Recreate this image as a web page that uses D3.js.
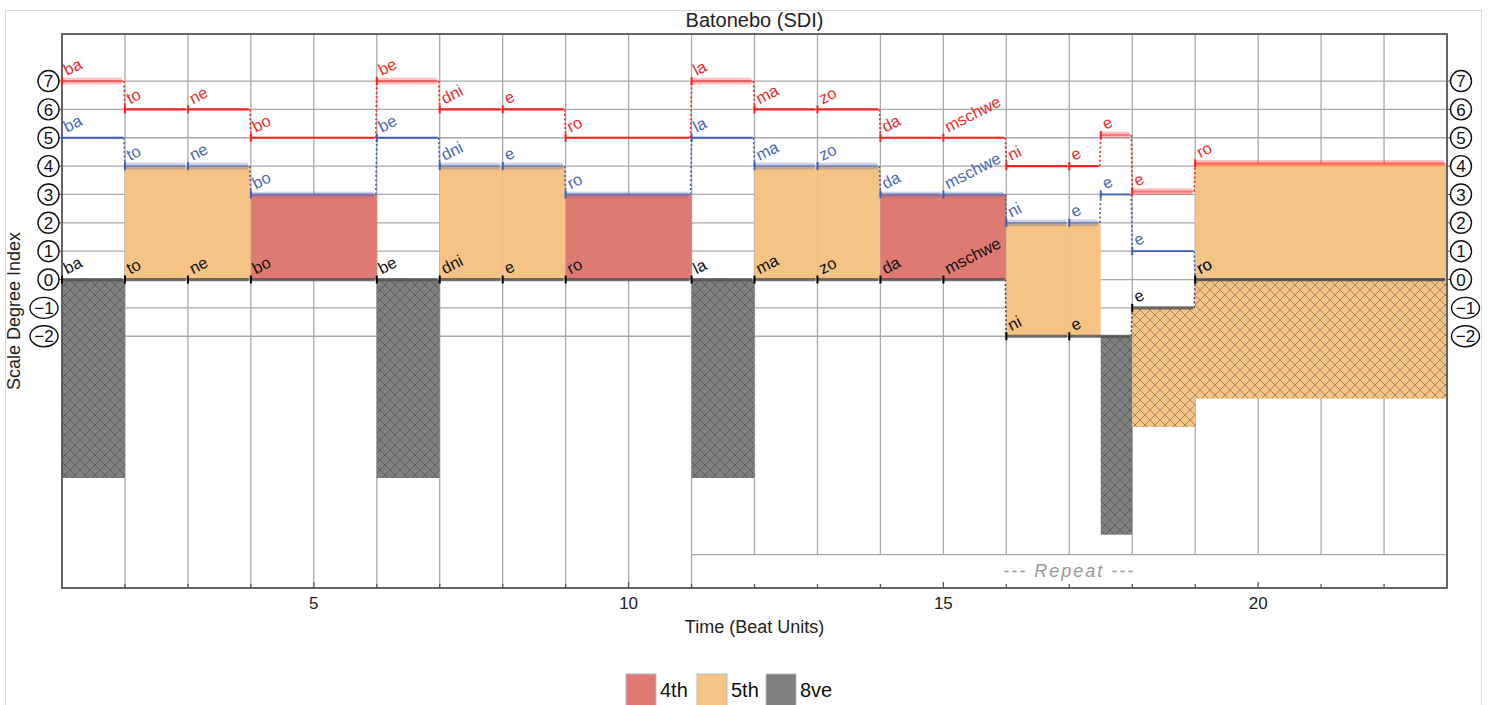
<!DOCTYPE html>
<html><head><meta charset="utf-8">
<script src="https://cdn.jsdelivr.net/npm/d3@7"></script>
<style>body{margin:0;background:#fff;font-family:"Liberation Sans",Arial,sans-serif}</style>
</head><body><svg id="c" width="1493" height="705"></svg>
<script>
// ---------------- data ----------------
const chartTitle = "Batonebo (SDI)";
const xTitle = "Time (Beat Units)";
const yTitle = "Scale Degree Index";
const noteStarts = [1,2,3,4,6,7,8,9,11,12,13,14,15,16,17,17.5,18,19];
const noteEnds   = [2,3,4,6,7,8,9,11,12,13,14,15,16,17,17.5,18,19,23];
const upperSyllables = ["ba","to","ne","bo","be","dni","e","ro","la","ma","zo","da","mschwe","ni","e","e","e","ro"];
const topDegrees = [7,6,6,5,7,6,6,5,7,6,6,5,5,4,4,5.1,3.1,4.1];
const topSpread  = [0.1,0,0,0,0.1,0,0,0,0.1,0,0,0,0,0,0,0.1,0.1,0.1];
const midDegrees = [5,4,4,3,5,4,4,3,5,4,4,3,3,2,2,3,1,0];
const midSpread  = [0,0.1,0.1,0.08,0,0.1,0.1,0.08,0,0.1,0.1,0.08,0.08,0.1,0.1,0,0,0];
const bassStarts = [1,2,3,4,6,7,8,9,11,12,13,14,15,16,17,18,19];
const bassEnds   = [2,3,4,6,7,8,9,11,12,13,14,15,16,17,18,19,23];
const bassSyllables = ["ba","to","ne","bo","be","dni","e","ro","la","ma","zo","da","mschwe","ni","e","e","ro"];
const bassDegrees = [0,0,0,0,0,0,0,0,0,0,0,0,0,-2,-2,-1,0];
const intervalStarts = [1,2,3,4,6,7,8,9,11,12,13,14,15,16,17,17.5,18,19,19];
const intervalEnds   = [2,3,4,6,7,8,9,11,12,13,14,15,16,17,17.5,18,19,23,23];
const intervalLow    = [-7,0,0,0,-7,0,0,0,-7,0,0,0,0,-2,-2,-9,-5.2,0,-4.2];
const intervalHigh   = [0,4,4,3,0,4,4,3,0,4,4,3,3,2,2,-2,-1,4.1,0];
const intervalType   = ["8ve","5th","5th","4th","8ve","5th","5th","4th","8ve","5th","5th","4th","4th","5th","5th","8ve","5th","5th","5th"];
const intervalHatched= [true,false,false,false,true,false,false,false,true,false,false,false,false,false,false,true,true,false,true];
const yTicks = [-2,-1,0,1,2,3,4,5,6,7];
const xTicks = [5,10,15,20];
const xDomain = [1,23];
const yDomain = [-10.88,8.66];
const repeatStart = 11;
const repeatBandTop = -9.7;
const repeatLabel = "--- Repeat ---";
const legendLabels = ["4th","5th","8ve"];

// ---------------- styles ----------------
const fillColor = {"4th":"#df7a73","5th":"#f5c484","8ve":"#7f7f7f"};
const RED="#ff1f1f", REDT="#ee2b2b", BLUE="#3d5fb9", BLUET="#4a68b6";

const svg = d3.select("#c");
const x = d3.scaleLinear().domain(xDomain).range([62,1447]);
const y = d3.scaleLinear().domain(yDomain).range([588,34]);
const X0=x(xDomain[0]), X1=x(xDomain[1]), Y0=y(yDomain[1]), Y1=y(yDomain[0]);

// outer border
svg.append("rect").attr("x",5.5).attr("y",10.5).attr("width",1476).attr("height",720)
  .attr("fill","none").attr("stroke","#d8d8d8");

// patterns
const defs = svg.append("defs");
Object.keys(fillColor).forEach(k=>{
  const p=defs.append("pattern").attr("id","h"+k).attr("patternUnits","userSpaceOnUse")
    .attr("width",10).attr("height",10);
  p.append("rect").attr("width",10).attr("height",10).attr("fill",fillColor[k]);
  p.append("path").attr("d","M0,0L10,10M10,0L0,10M-1,9L1,11M9,-1L11,1")
    .attr("stroke","rgba(45,45,45,0.5)").attr("stroke-width",0.8);
});

// title
svg.append("text").attr("x",(X0+X1)/2).attr("y",27).attr("text-anchor","middle")
  .attr("font-size",20).attr("fill","#222").text(chartTitle);

// grid
const grid = svg.append("g").attr("stroke","#a9a9a9").attr("stroke-width",1.3);
yTicks.forEach(t=>grid.append("line").attr("x1",X0).attr("x2",X1).attr("y1",y(t)).attr("y2",y(t)));
d3.range(xDomain[0]+1,xDomain[1]).forEach(t=>grid.append("line").attr("x1",x(t)).attr("x2",x(t))
  .attr("y1",Y0).attr("y2", t>=repeatStart ? y(repeatBandTop) : Y1));

// interval fills
svg.append("g").selectAll("rect").data(intervalStarts.map((s,i)=>i)).join("rect")
  .attr("x",i=>x(intervalStarts[i])).attr("width",i=>x(intervalEnds[i])-x(intervalStarts[i]))
  .attr("y",i=>y(intervalHigh[i])).attr("height",i=>y(intervalLow[i])-y(intervalHigh[i]))
  .attr("fill",i=>intervalHatched[i]?`url(#h${intervalType[i]})`:fillColor[intervalType[i]]);

// repeat band
svg.append("line").attr("x1",x(repeatStart)).attr("x2",X1).attr("y1",y(repeatBandTop)).attr("y2",y(repeatBandTop))
  .attr("stroke","#a9a9a9").attr("stroke-width",1.3);
svg.append("line").attr("x1",x(repeatStart)).attr("x2",x(repeatStart)).attr("y1",y(repeatBandTop)).attr("y2",Y1)
  .attr("stroke","#a9a9a9").attr("stroke-width",1.3);
svg.append("text").attr("x",(x(repeatStart)+X1)/2).attr("y",(y(repeatBandTop)+Y1)/2+6)
  .attr("text-anchor","middle").attr("font-size",18).attr("letter-spacing",2)
  .attr("font-style","italic").attr("fill","#999")
  .text(repeatLabel);

// frame
svg.append("rect").attr("x",X0).attr("y",Y0).attr("width",X1-X0).attr("height",Y1-Y0)
  .attr("fill","none").attr("stroke","#555").attr("stroke-width",1.8);
// bottom ticks
d3.range(xDomain[0]+1,xDomain[1]).forEach(t=>svg.append("line").attr("x1",x(t)).attr("x2",x(t))
  .attr("y1",Y1).attr("y2",Y1-(xTicks.includes(t)?6:4)).attr("stroke","#555").attr("stroke-width",1.3));
xTicks.forEach(t=>svg.append("text").attr("x",x(t)).attr("y",609).attr("text-anchor","middle")
  .attr("font-size",17).attr("fill","#222").text(t));
svg.append("text").attr("x",(X0+X1)/2).attr("y",633).attr("text-anchor","middle")
  .attr("font-size",18).attr("fill","#222").text(xTitle);
svg.append("text").attr("transform",`translate(20,${(Y0+Y1)/2}) rotate(-90)`).attr("text-anchor","middle")
  .attr("font-size",18).attr("fill","#222").text(yTitle);

// circled y tick labels
function circled(cx, t, side){
  const neg = t<0;
  const g = svg.append("g").attr("transform",`translate(${cx + (neg ? (side<0?-4.5:4.5):0)},${y(t)})`);
  g.append("line").attr("x1", side<0? 10:-10).attr("x2", side<0?(X0-cx):(X1-cx)).attr("stroke","#555");
  g.append("ellipse").attr("rx",neg?14:10.5).attr("ry",10.5).attr("fill","#fff").attr("stroke","#111").attr("stroke-width",1.4);
  g.append("text").attr("text-anchor","middle").attr("dy","0.36em").attr("font-size",17).attr("fill","#111")
    .text(neg ? "\u2212"+Math.abs(t) : t);
}
yTicks.forEach(t=>{ circled(48.5,t,-1); circled(1461,t,1); });

// voices
const labelAngle = -27;
const ca = Math.cos(labelAngle*Math.PI/180), sa = Math.sin(labelAngle*Math.PI/180);
function slantedLabel(g, str, lx, ly, color){
  const t = g.append("text").attr("font-size",16.5).attr("fill",color).attr("x",0).attr("y",0).text(str);
  const node = t.node(), xs=[], ys=[], rs=[];
  for(let j=0;j<str.length;j++){
    const a = node.getStartPositionOfChar(j).x;
    xs.push((lx + a*ca).toFixed(2)); ys.push((ly + a*sa).toFixed(2)); rs.push(labelAngle);
  }
  t.attr("x",xs.join(" ")).attr("y",ys.join(" ")).attr("rotate",rs.join(" "));
}
function drawVoice(starts, ends, degs, syls, spreads, lineColor, textColor, lw, opts={}){
  const g = svg.append("g");
  // halos
  starts.forEach((s,i)=>{
    if(spreads && spreads[i]>0){
      g.append("line").attr("x1",x(s)).attr("x2",x(ends[i])-3).attr("y1",y(degs[i])).attr("y2",y(degs[i]))
        .attr("stroke",lineColor).attr("stroke-opacity",0.28)
        .attr("stroke-width",2*(y(0)-y(spreads[i]))+1);
    }
  });
  // connectors
  starts.forEach((s,i)=>{
    if(i>0 && degs[i]!==degs[i-1]){
      g.append("line").attr("x1",x(s)-1).attr("x2",x(s)).attr("y1",y(degs[i-1])).attr("y2",y(degs[i]))
        .attr("stroke",lineColor).attr("stroke-width",1.6).attr("stroke-dasharray","2,2.4");
    }
  });
  // lines
  starts.forEach((s,i)=>{
    const faint = spreads && spreads[i]>0;
    g.append("line").attr("x1",x(s)).attr("x2",x(ends[i])-2).attr("y1",y(degs[i])).attr("y2",y(degs[i]))
      .attr("stroke",lineColor).attr("stroke-width",lw).attr("stroke-opacity",opts.lineOpacity ?? (faint?0.45:1));
    g.append("line").attr("x1",x(s)).attr("x2",x(s)).attr("y1",y(degs[i])-4).attr("y2",y(degs[i])+4)
      .attr("stroke",opts.tickColor||lineColor).attr("stroke-width",2);
  });
  // labels (slanted)
  starts.forEach((s,i)=> slantedLabel(g, syls[i], x(s)+5, y(degs[i])-5, textColor));
}
drawVoice(noteStarts, noteEnds, midDegrees, upperSyllables, midSpread, BLUE, BLUET, 1.8);
drawVoice(bassStarts, bassEnds, bassDegrees, bassSyllables, null, "#4a4a4a", "#111", 3.2, {lineOpacity:0.75, tickColor:"#000"});
drawVoice(noteStarts, noteEnds, topDegrees, upperSyllables, topSpread, RED, REDT, 2.2);

// legend
const lx = [626,697,766];
legendLabels.forEach((l,i)=>{
  svg.append("rect").attr("x",lx[i]).attr("y",674).attr("width",30).attr("height",34)
    .attr("fill",fillColor[l]).attr("stroke","#bbb");
  svg.append("text").attr("x",lx[i]+34).attr("y",697).attr("font-size",20).attr("fill","#111").text(l);
});
</script></body></html>
